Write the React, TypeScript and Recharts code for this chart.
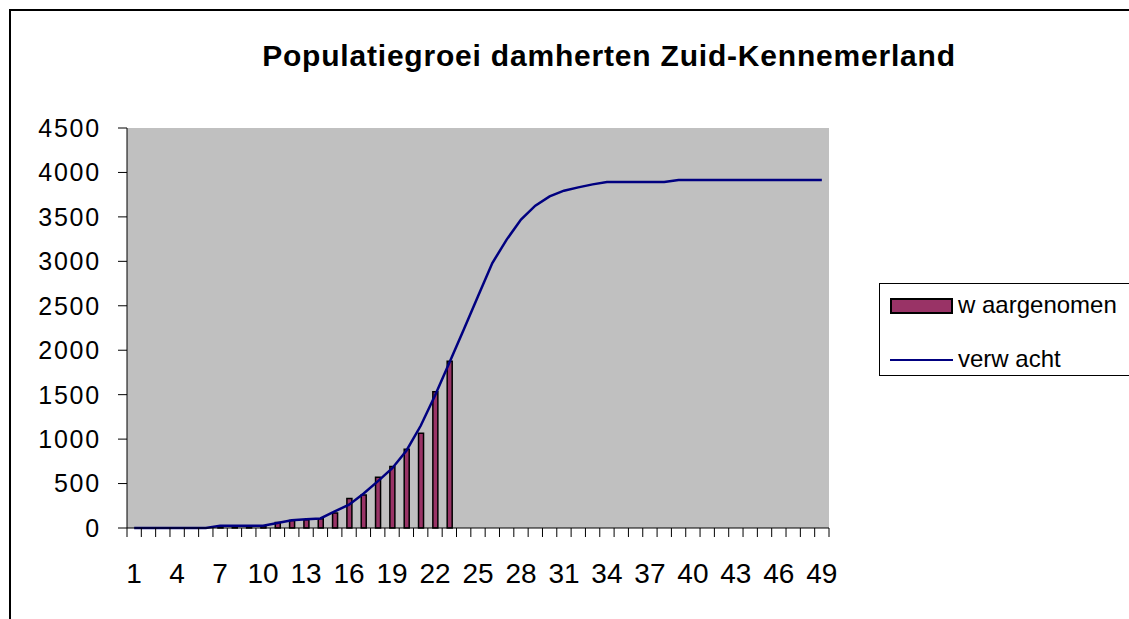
import React from "react";
import { Bar, CartesianGrid, ComposedChart, Line, XAxis, YAxis } from "recharts";

// jaar-index op de x-as
const jaren = [
  1, 2, 3, 4, 5, 6, 7, 8, 9, 10, 11, 12, 13, 14, 15, 16, 17, 18, 19, 20, 21, 22, 23, 24, 25,
  26, 27, 28, 29, 30, 31, 32, 33, 34, 35, 36, 37, 38, 39, 40, 41, 42, 43, 44, 45, 46, 47, 48, 49,
];

// getelde dieren (alleen de eerste 23 jaar)
const waargenomen = [
  0, 0, 0, 0, 0, 0, 10, 15, 15, 20, 63, 85, 94, 105, 169, 333, 370, 572, 693, 885, 1065, 1532, 1877,
];

// modelverwachting
const verwacht = [
  0, 0, 0, 0, 0, 0, 25, 25, 25, 25, 56, 86, 98, 108, 187, 262, 385, 525, 670, 870, 1150, 1490,
  1860, 2230, 2606, 2981, 3244, 3469, 3626, 3731, 3795, 3832, 3866, 3892, 3892, 3892, 3892, 3892,
  3915, 3915, 3915, 3915, 3915, 3915, 3915, 3915, 3915, 3915, 3915,
];

const xLabels = [1, 4, 7, 10, 13, 16, 19, 22, 25, 28, 31, 34, 37, 40, 43, 46, 49];
const yTicks = [0, 500, 1000, 1500, 2000, 2500, 3000, 3500, 4000, 4500];

const data = jaren.map((n, i) => ({
  n,
  waargenomen: i < waargenomen.length ? waargenomen[i] : null,
  verwacht: verwacht[i],
}));

// Excel zet de streepjes tussen de categorieen
const grenzen = [...jaren.map((n) => n - 0.5), jaren[jaren.length - 1] + 0.5];
const xDomain: [number, number] = [grenzen[0], grenzen[grenzen.length - 1]];

const FONT = '"Liberation Sans", Arial, sans-serif';

// alleen het streepje, geen tekst
const noLabel = () => <g />;

function LegendBox() {
  return (
    <div
      style={{
        position: "absolute",
        left: 879,
        top: 283,
        width: 280,
        height: 91,
        border: "1px solid #000",
        background: "#fff",
        fontFamily: FONT,
        fontSize: 24,
        color: "#000",
      }}
    >
      <div style={{ position: "absolute", left: 10, top: 14, width: 59, height: 12, background: "#993366", border: "2px solid #000" }} />
      <div style={{ position: "absolute", left: 78, top: 6, lineHeight: "30px", whiteSpace: "nowrap" }}>w aargenomen</div>
      <div style={{ position: "absolute", left: 10, top: 75, width: 63, height: 2, background: "#000080" }} />
      <div style={{ position: "absolute", left: 78, top: 60, lineHeight: "30px", whiteSpace: "nowrap" }}>verw acht</div>
    </div>
  );
}

export default function App() {
  return (
    <div style={{ position: "fixed", left: 0, top: 0, width: 1129, height: 619, overflow: "hidden", background: "#fff" }}>
      <div style={{ position: "absolute", left: 9, top: 9, width: 1200, height: 700, border: "2px solid #000" }} />
      <div
        style={{
          position: "absolute",
          left: 609,
          top: 41,
          transform: "translateX(-50%)",
          whiteSpace: "nowrap",
          fontFamily: FONT,
          fontWeight: "bold",
          fontSize: 30,
          lineHeight: "30px",
          letterSpacing: 0.8,
          color: "#000",
        }}
      >
        Populatiegroei damherten Zuid-Kennemerland
      </div>
      <div style={{ position: "absolute", left: 0, top: 0 }}>
        <ComposedChart
          width={1129}
          height={619}
          data={data}
          margin={{ top: 128, right: 300, bottom: 0, left: 0 }}
          style={{ fontFamily: FONT }}
        >
          <CartesianGrid horizontal={false} vertical={false} fill="#C0C0C0" />
          <XAxis
            xAxisId="top"
            orientation="top"
            type="number"
            dataKey="n"
            domain={xDomain}
            height={0}
            tick={false}
            tickLine={false}
            axisLine={{ stroke: "#808080", strokeWidth: 1.5 }}
          />
          <YAxis
            yAxisId="right"
            orientation="right"
            type="number"
            domain={[0, 4500]}
            width={0}
            tick={false}
            tickLine={false}
            axisLine={{ stroke: "#808080", strokeWidth: 1.5 }}
          />
          <XAxis
            type="number"
            dataKey="n"
            domain={xDomain}
            ticks={grenzen}
            interval={0}
            height={10}
            tick={noLabel}
            tickSize={9}
            tickLine={{ stroke: "#000" }}
            axisLine={{ stroke: "#000" }}
          />
          <XAxis
            xAxisId="lab"
            type="number"
            dataKey="n"
            domain={xDomain}
            ticks={xLabels}
            interval={0}
            height={81}
            tickSize={0}
            tickMargin={25}
            tickLine={false}
            axisLine={false}
            tick={{ fill: "#000", fontSize: 28 }}
          />
          <YAxis
            type="number"
            domain={[0, 4500]}
            ticks={yTicks}
            interval={0}
            width={127}
            tickSize={9}
            tickMargin={17}
            tickLine={{ stroke: "#000" }}
            axisLine={{ stroke: "#000" }}
            tick={{ fill: "#000", fontSize: 25, letterSpacing: 1.8 }}
          />
          <Bar
            dataKey="waargenomen"
            barSize={5}
            fill="#993366"
            stroke="#000"
            strokeWidth={1.5}
            isAnimationActive={false}
          />
          <Line
            type="linear"
            dataKey="verwacht"
            stroke="#000080"
            strokeWidth={2.5}
            dot={false}
            activeDot={false}
            isAnimationActive={false}
          />
        </ComposedChart>
      </div>
      <LegendBox />
    </div>
  );
}
